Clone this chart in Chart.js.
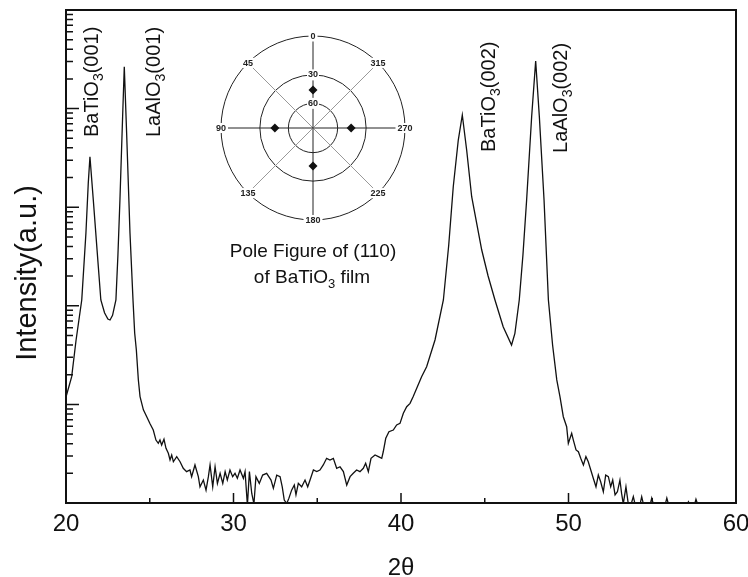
<!DOCTYPE html>
<html>
<head>
<meta charset="utf-8">
<title>XRD of BaTiO3 film on LaAlO3</title>
<script src="https://cdn.jsdelivr.net/npm/chart.js@4.4.1/dist/chart.umd.min.js"></script>
<style>
  html, body { margin: 0; padding: 0; background: #fff; }
  #wrap { position: relative; width: 748px; height: 577px; }
  #xrd { position: absolute; left: 0; top: 0; }
  #pole { position: absolute; left: 203px; top: 18px; }
</style>
</head>
<body>
<div id="wrap">
  <canvas id="xrd" width="748" height="577"></canvas>
  <canvas id="pole" width="220" height="220"></canvas>
</div>
<script>
const FONT = '"Liberation Sans", Arial, sans-serif';
Chart.defaults.font.family = FONT;

// theta-2theta scan: angle (deg) and counts
const twoTheta = [
  20.00, 20.34, 20.60, 20.94, 21.19, 21.33, 21.43, 21.63, 21.93, 22.08,
  22.30, 22.50, 22.63, 22.78, 22.98, 23.10, 23.22, 23.38, 23.48, 23.62,
  23.82, 24.00, 24.10, 24.20, 24.32, 24.42, 24.62, 24.82, 25.01, 25.21,
  25.37, 25.51, 25.61, 25.71, 25.85, 25.97, 26.11, 26.21, 26.31, 26.41,
  26.61, 26.81, 27.00, 27.20, 27.40, 27.50, 27.70, 27.90, 28.00, 28.20,
  28.36, 28.50, 28.60, 28.76, 28.90, 29.04, 29.20, 29.36, 29.50, 29.63,
  29.79, 29.95, 30.09, 30.23, 30.39, 30.59, 30.69, 30.83, 30.95, 31.09,
  31.22, 31.34, 31.54, 31.74, 31.98, 32.24, 32.38, 32.58, 32.78, 32.91,
  33.03, 33.18, 33.31, 33.47, 33.63, 33.73, 33.87, 34.07, 34.27, 34.43,
  34.57, 34.67, 34.77, 34.97, 35.16, 35.36, 35.56, 35.76, 35.96, 36.16,
  36.36, 36.56, 36.76, 36.96, 37.15, 37.35, 37.55, 37.75, 37.89, 38.05,
  38.21, 38.45, 38.65, 38.85, 38.94, 39.09, 39.28, 39.54, 39.74, 39.94,
  40.14, 40.34, 40.54, 40.73, 41.23, 41.53, 42.03, 42.53, 42.85, 43.12,
  43.42, 43.66, 43.92, 44.22, 44.82, 45.20, 45.61, 46.10, 46.60, 46.80,
  47.06, 47.28, 47.50, 47.80, 48.04, 48.26, 48.54, 48.80, 49.05, 49.30,
  49.49, 49.69, 49.89, 49.99, 50.19, 50.29, 50.45, 50.59, 50.73, 50.89,
  51.04, 51.18, 51.33, 51.48, 51.64, 51.78, 51.92, 52.08, 52.22, 52.38,
  52.52, 52.64, 52.78, 52.92, 53.07, 53.17, 53.27, 53.43, 53.57, 53.72,
  53.87, 54.00, 54.25, 54.37, 54.50, 54.85, 54.97, 55.10, 55.75, 55.87,
  56.00, 57.05, 57.16, 57.30, 57.50, 57.61, 57.75, 60.00
];
const intensity = [
  119, 191, 447, 1145, 5470, 17580, 32500, 11830, 2493, 1145,
  850, 735, 718, 800, 1145, 3275, 11830, 82800, 266000, 56200,
  5470, 1145, 530, 356, 177, 120, 88, 75, 64, 55,
  43.5, 40.3, 43.5, 38.7, 44.3, 35.9, 31.9, 27.3, 30.7, 26.2,
  29.5, 26.2, 22.5, 20.8, 21.6, 18.5, 24.3, 18.5, 14.6, 17.1,
  13.5, 18.5, 24.3, 14.6, 23.3, 15.8, 20.0, 15.8, 20.8, 17.1,
  21.6, 18.5, 20.0, 17.8, 21.6, 17.8, 20.8, 9.5, 20.8, 12.5,
  9.8, 18.5, 15.8, 19.2, 20.0, 17.1, 14.1, 19.2, 18.5, 14.6,
  10.7, 9.9, 11.2, 13.5, 15.2, 12.1, 15.8, 14.6, 17.1, 14.6,
  17.1, 19.2, 21.6, 20.8, 21.6, 24.3, 28.4, 27.3, 28.4, 22.5,
  23.3, 20.8, 15.2, 18.5, 20.0, 21.6, 20.8, 22.5, 25.3, 20.8,
  28.4, 30.7, 29.5, 28.4, 33.1, 45.3, 52.8, 55.0, 61.8, 64.2,
  81.3, 94.8, 102.5, 120, 191, 241, 450, 1145, 4140, 16140,
  48000, 86100, 38000, 12780, 3680, 2005, 1145, 614, 400, 526,
  1145, 3275, 11830, 82800, 304000, 82800, 11830, 1145, 400, 177,
  120, 75, 59.4, 40.3, 50.9, 43.5, 34.5, 33.1, 28.4, 24.3,
  29.5, 26.2, 21.6, 17.8, 14.6, 19.2, 16.4, 13.0, 19.2, 18.5,
  14.6, 17.1, 12.1, 13.0, 17.1, 12.5, 9.8, 14.6, 9.8, 9.5,
  11.6, 9.3, 9.3, 11.6, 9.3, 9.3, 11.2, 9.3, 9.3, 11.2,
  9.3, 9.3, 10.3, 9.3, 9.3, 10.9, 9.3, 9.0
];

// axis ranges and tick values
const xMin = 20, xMax = 60;
const xMajorTicks = [20, 30, 40, 50, 60];
const xMinorTicks = [25, 35, 45, 55];
const yMin = 10, yMax = 1e6;

// reflection labels: [formula, subscript, index], anchored at (2theta, counts)
const peakLabels = [
  ['BaTiO', '3', '(001)'],
  ['LaAlO', '3', '(001)'],
  ['BaTiO', '3', '(002)'],
  ['LaAlO', '3', '(002)']
];
const peakLabelX = [21.91, 25.61, 45.61, 49.89];
const peakLabelY = [51500, 51500, 36300, 35500];

// pole figure of (110): azimuth labels clockwise from the top
const azimuthLabels = ['0', '315', '270', '225', '180', '135', '90', '45'];
const ringElevation = [60, 30, 0];
const poleAzimuth = [0, 90, 180, 270];
const poleElevation = [45, 45, 45, 45];

// stereographic radius for an elevation angle (0 = rim, 90 = centre)
const stereo = chi => Math.tan((90 - chi) / 2 * Math.PI / 180);

function formulaWidth(ctx, parts, size) {
  let w = 0;
  parts.forEach((p, i) => {
    ctx.font = (i % 2 ? Math.round(size * 0.7) : size) + 'px ' + FONT;
    w += ctx.measureText(p).width;
  });
  return w;
}

function drawFormula(ctx, parts, x, y, size) {
  let cx = x;
  ctx.textAlign = 'left';
  ctx.textBaseline = 'alphabetic';
  parts.forEach((p, i) => {
    const sub = i % 2 === 1;
    ctx.font = (sub ? Math.round(size * 0.7) : size) + 'px ' + FONT;
    ctx.fillText(p, cx, sub ? y + size * 0.27 : y);
    cx += ctx.measureText(p).width;
  });
}

// frame, inward ticks, titles and peak labels
const xrdDecor = {
  id: 'xrdDecor',
  afterDraw(chart) {
    const { ctx, chartArea: a, scales: { x, y } } = chart;
    ctx.save();
    ctx.strokeStyle = '#111';
    ctx.fillStyle = '#111';

    ctx.lineWidth = 1.5;
    ctx.beginPath();
    xMajorTicks.forEach(v => {
      const px = x.getPixelForValue(v);
      ctx.moveTo(px, a.bottom); ctx.lineTo(px, a.bottom - 10);
    });
    xMinorTicks.forEach(v => {
      const px = x.getPixelForValue(v);
      ctx.moveTo(px, a.bottom); ctx.lineTo(px, a.bottom - 5);
    });
    for (let e = 1; e < 6; e++) {
      for (let m = 1; m < 10; m++) {
        const v = m * Math.pow(10, e);
        if (v <= yMin || v >= yMax) continue;
        const py = y.getPixelForValue(v);
        ctx.moveTo(a.left, py); ctx.lineTo(a.left + (m === 1 ? 13 : 7), py);
      }
    }
    ctx.stroke();

    ctx.lineWidth = 2;
    ctx.strokeRect(a.left, a.top, a.right - a.left, a.bottom - a.top);

    // axis titles
    ctx.textAlign = 'center';
    ctx.textBaseline = 'alphabetic';
    ctx.font = '24px ' + FONT;
    ctx.fillText('2θ', (a.left + a.right) / 2, 575);
    ctx.save();
    ctx.translate(36, 273);
    ctx.rotate(-Math.PI / 2);
    ctx.font = '29px ' + FONT;
    ctx.fillText('Intensity(a.u.)', 0, 0);
    ctx.restore();

    // reflection labels, reading upwards
    peakLabels.forEach((parts, i) => {
      ctx.save();
      ctx.translate(x.getPixelForValue(peakLabelX[i]), y.getPixelForValue(peakLabelY[i]));
      ctx.rotate(-Math.PI / 2);
      drawFormula(ctx, parts, 0, 0, 20);
      ctx.restore();
    });

    // caption under the pole figure
    ctx.textAlign = 'center';
    ctx.font = '19px ' + FONT;
    ctx.fillText('Pole Figure of (110)', 313, 257);
    const cap = ['of BaTiO', '3', ' film'];
    const w = formulaWidth(ctx, cap, 19);
    drawFormula(ctx, cap, 312 - w / 2, 283, 19);
    ctx.restore();
  }
};

new Chart(document.getElementById('xrd'), {
  type: 'line',
  data: {
    datasets: [{
      data: twoTheta.map((t, i) => ({ x: t, y: intensity[i] })),
      borderColor: '#111',
      borderWidth: 1.3,
      pointRadius: 0,
      tension: 0,
      fill: false,
      clip: 0
    }]
  },
  options: {
    responsive: false,
    animation: false,
    devicePixelRatio: 1,
    layout: { padding: { top: 10, right: 12, left: 0, bottom: 0 } },
    plugins: { legend: { display: false }, tooltip: { enabled: false } },
    scales: {
      x: {
        type: 'linear',
        min: xMin,
        max: xMax,
        grid: { display: false, drawTicks: false },
        border: { display: false },
        ticks: {
          stepSize: 10,
          autoSkip: false,
          maxRotation: 0,
          padding: 7,
          color: '#111',
          font: { size: 24 }
        },
        afterFit: s => { s.height = 74; s.paddingLeft = 0; s.paddingRight = 0; }
      },
      y: {
        type: 'logarithmic',
        min: yMin,
        max: yMax,
        grid: { display: false, drawTicks: false },
        border: { display: false },
        ticks: { display: false },
        afterFit: s => { s.width = 66; }
      }
    }
  },
  plugins: [xrdDecor]
});

// azimuth numbers sitting on the rim
const azimuthText = {
  id: 'azimuthText',
  afterDraw(chart) {
    const r = chart.scales.r;
    const ctx = chart.ctx;
    ctx.save();
    ctx.font = 'bold 9px ' + FONT;
    ctx.textAlign = 'center';
    ctx.textBaseline = 'middle';
    azimuthLabels.forEach((lab, i) => {
      const p = r.getPointPosition(i, r.drawingArea);
      const w = ctx.measureText(lab).width;
      ctx.fillStyle = '#fff';
      ctx.fillRect(p.x - w / 2 - 2, p.y - 5, w + 4, 10);
      ctx.fillStyle = '#222';
      ctx.fillText(lab, p.x, p.y + 0.5);
    });
    ctx.restore();
  }
};

const poleRadius = azimuthLabels.map(lab => {
  const k = poleAzimuth.indexOf(Number(lab));
  return k < 0 ? null : stereo(poleElevation[k]);
});

new Chart(document.getElementById('pole'), {
  type: 'radar',
  data: {
    labels: azimuthLabels,
    datasets: [{
      data: poleRadius,
      showLine: false,
      borderColor: 'transparent',
      pointStyle: 'rectRot',
      pointRadius: 4.5,
      pointBorderWidth: 0,
      pointBackgroundColor: '#111'
    }]
  },
  options: {
    responsive: false,
    animation: false,
    devicePixelRatio: 1,
    plugins: { legend: { display: false }, tooltip: { enabled: false } },
    scales: {
      r: {
        min: 0,
        max: 1,
        afterBuildTicks: s => {
          s.ticks = [90].concat(ringElevation).map(c => ({ value: stereo(c) }));
        },
        afterFit: s => { s.xCenter = 110; s.yCenter = 110; s.drawingArea = 92; },
        grid: { circular: true, color: '#222', lineWidth: 1 },
        angleLines: { color: c => (c.index % 2 ? '#999' : '#222'), lineWidth: 1 },
        pointLabels: { display: false },
        ticks: {
          color: '#222',
          font: { size: 9, weight: 'bold' },
          backdropColor: '#fff',
          backdropPadding: 1,
          callback: v => {
            const chi = Math.round(90 - 2 * Math.atan(v) * 180 / Math.PI);
            return chi > 0 && chi < 90 ? String(chi) : '';
          }
        }
      }
    }
  },
  plugins: [azimuthText]
});
</script>
</body>
</html>
